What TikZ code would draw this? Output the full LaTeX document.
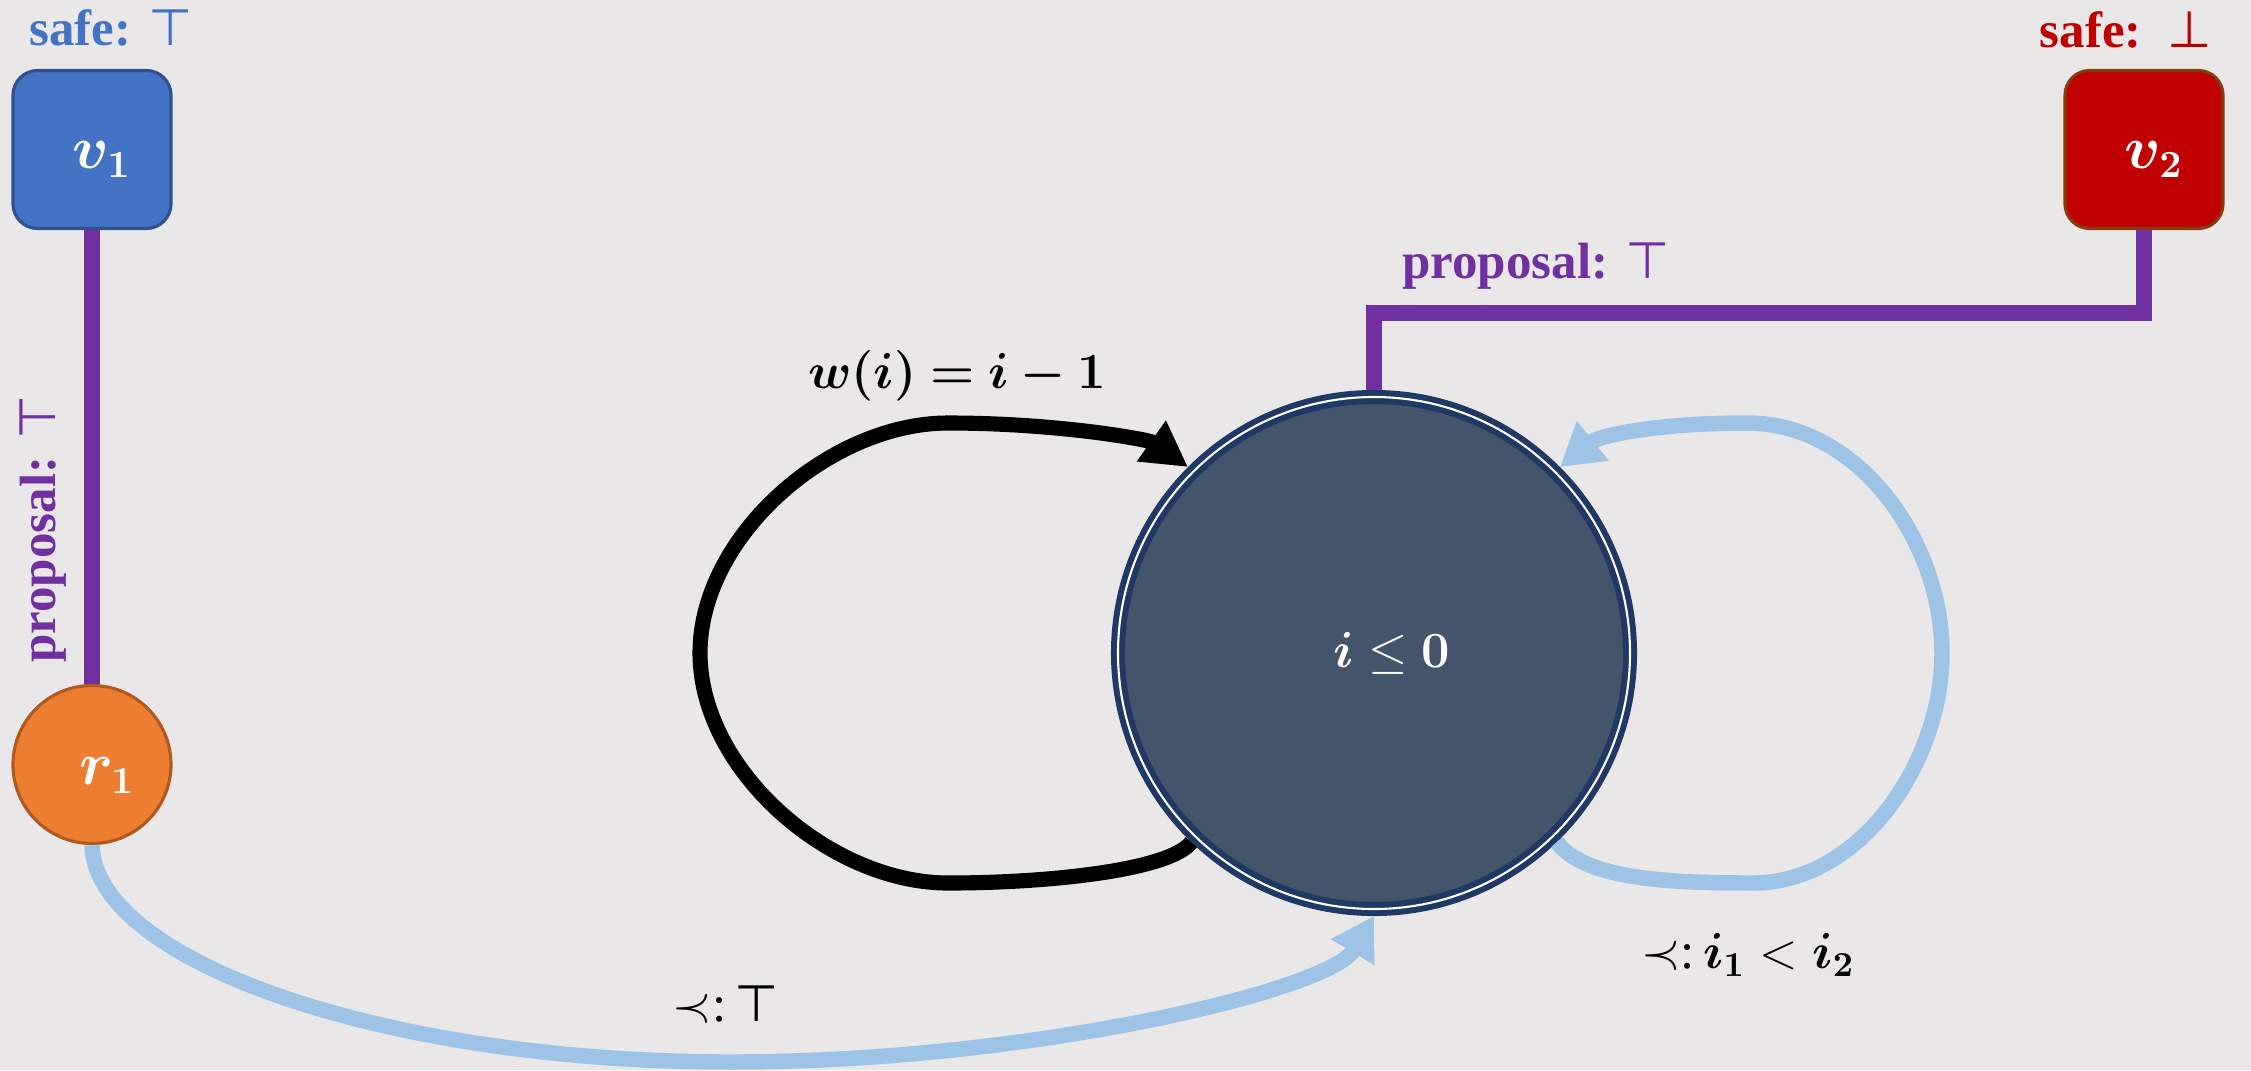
\documentclass[tikz,border=0pt]{standalone}
\usepackage{amsmath}
\usepackage{fontspec}
\setmainfont{Liberation Serif}
\newfontfamily\symfont{DejaVu Sans}
\usepackage{bm}
\usetikzlibrary{arrows.meta}

\definecolor{bgcol}{HTML}{E9E7E8}
\definecolor{vblue}{HTML}{4472C4}
\definecolor{vblueborder}{HTML}{2F528F}
\definecolor{vred}{HTML}{C00000}
\definecolor{vredborder}{HTML}{843C0C}
\definecolor{rorange}{HTML}{ED7D31}
\definecolor{rborder}{HTML}{AE5A21}
\definecolor{stategray}{HTML}{44546A}
\definecolor{statenavy}{HTML}{1F3864}
\definecolor{proppurple}{HTML}{7030A0}
\definecolor{ordblue}{HTML}{9DC3E6}

\begin{document}
\begin{tikzpicture}[
    box/.style={line width=0.9pt, rounded corners=7pt,
                minimum size=1.58cm, inner sep=0pt},
    rnode/.style={circle, draw=rborder, fill=rorange, line width=0.9pt,
                  minimum size=1.58cm, inner sep=0pt},
    state/.style={circle, fill=stategray, draw=statenavy, line width=1.7pt,
                  double=white, double distance=0.6pt,
                  minimum size=5.12cm, inner sep=0pt, outer sep=2pt},
    nodelbl/.style={font=\fontsize{16}{19}\selectfont, text=white},
    safelbl/.style={font=\fontsize{14.5}{17}\selectfont\bfseries},
    proplbl/.style={font=\fontsize{14.5}{17}\selectfont\bfseries,
                    text=proppurple},
    lbl/.style={font=\fontsize{14.5}{17}\selectfont, text=black},
    prop/.style={proppurple, line width=4.5pt},
    wloop/.style={-{Triangle[length=4.5mm, width=4.7mm]},
                  line width=4.3pt, black},
    ordedge/.style={-{Triangle[length=4.2mm, width=4.8mm]},
                    line width=4.4pt, ordblue},
]

% --- Canvas ---
\fill[bgcol] (0,0) rectangle (22.51,-10.70);
\useasboundingbox (0,0) rectangle (22.51,-10.70);

% --- Nodes ---
\node[box, draw=vblueborder, fill=vblue] (v1) at (0.92,-1.495) {};
\node[box, draw=vredborder, fill=vred]   (v2) at (21.44,-1.495) {};
\node[rnode] (r1) at (0.92,-7.645) {};
\node[state] (c)  at (13.74,-6.53) {};

\node[nodelbl] (v1lbl) at ([shift={(0.10,-0.10)}]v1.center) {$\bm{v_1}$};
\node[nodelbl] (v2lbl) at ([shift={(0.10,-0.10)}]v2.center) {$\bm{v_2}$};
\node[nodelbl] (r1lbl) at ([shift={(0.15,-0.11)}]r1.center) {$\bm{r_1}$};
\node[lbl, text=white] (clbl) at ([xshift=0.18cm]c.center)
    {$\bm{i} \le \bm{0}$};

% --- Safety labels ---
\node[safelbl, text=vblue, anchor=base west] (safe1) at (0.17,-0.45)
    {safe: {\mdseries\symfont ⊤}};
\node[safelbl, text=vred, anchor=base east] (safe2) at (22.24,-0.47)
    {safe:\ \ {\mdseries\symfont ⊥}};

% --- Proposal edges ---
\draw[prop] (v1.south) -- (r1.north);
\draw[prop] (v2.south) -- ++(0,-0.83) -| (c.north);

\node[proplbl, rotate=90, anchor=base west] (prop1) at (0.55,-6.75)
    {proposal: {\mdseries\symfont ⊤}};
\node[proplbl, anchor=base west] (prop2) at (13.90,-2.78)
    {proposal: {\mdseries\symfont ⊤}};

% --- Weight loop ---
\draw[wloop] (c.226) .. controls (11.7,-8.70) and (10.5,-8.83) .. (9.48,-8.83)
    .. controls (8.30,-8.83) and (7.00,-7.70) .. (7.00,-6.53)
    .. controls (7.00,-5.36) and (8.30,-4.23) .. (9.48,-4.23)
    .. controls (10.6,-4.23) and (11.5,-4.40) .. (c.135);
\node[lbl] (wlbl) at (9.57,-3.76) {$\bm{w(i) = i - 1}$};

% --- Order edges ---
\draw[ordedge] (c.-46) .. controls (15.85,-8.78) and (16.6,-8.83) .. (17.53,-8.83)
    .. controls (18.6,-8.83) and (19.42,-7.63) .. (19.42,-6.53)
    .. controls (19.42,-5.43) and (18.6,-4.23) .. (17.47,-4.23)
    .. controls (16.6,-4.23) and (16.0,-4.35) .. (c.45);
\node[lbl] (ordlbl2) at (17.48,-9.55) {$\prec$:\,$\bm{i_1} < \bm{i_2}$};

\draw[ordedge] (r1.south) .. controls (0.95,-9.60) and (3.8,-10.62) .. (7.31,-10.62)
    .. controls (10.3,-10.62) and (13.3,-9.90) .. (c.south);
\node[lbl] (ordlbl1) at (7.26,-10.05) {$\prec$:\,{\symfont ⊤}};

\end{tikzpicture}
\end{document}
